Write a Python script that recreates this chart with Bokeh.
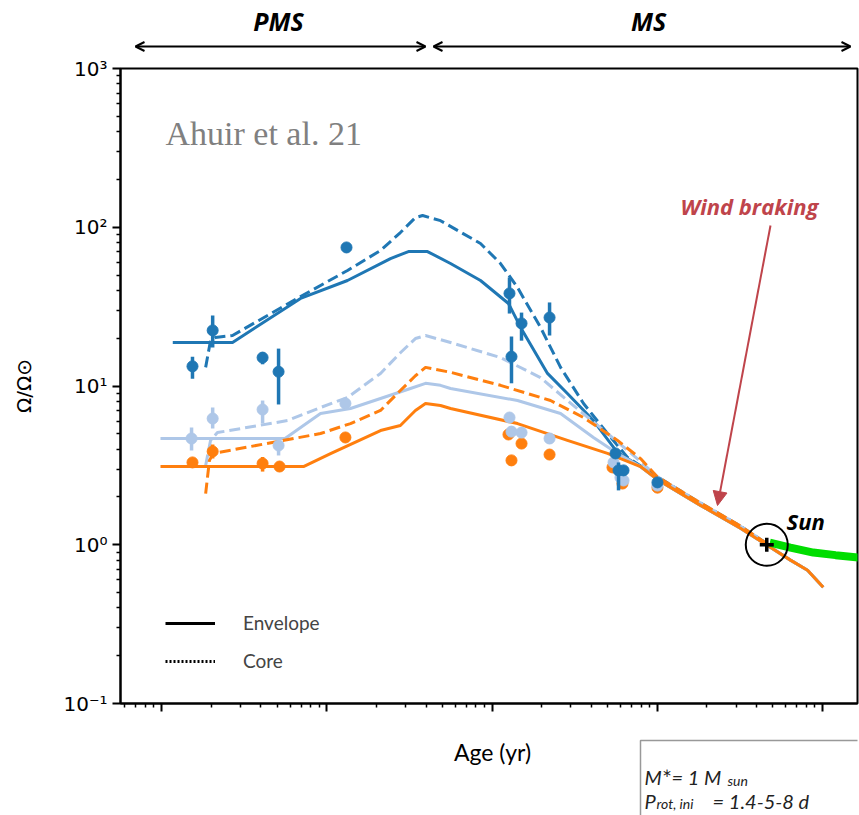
from bokeh.plotting import figure
from bokeh.layouts import column
from bokeh.models import (Range1d, FixedTicker, Label, Arrow, OpenHead, NormalHead,
                          Legend, LegendItem)
from bokeh.embed import file_html
from bokeh.resources import INLINE

# ---------------------------------------------------------------- data
# Spin evolution of a 1 Msun star for three initial rotation periods
# (1.4 d = fast, 5 d = medium, 8 d = slow). Ages in yr, Omega in Omega_sun.

# shared main-sequence convergence (Skumanich-like spin-down)
TAIL_AGE = [1.0e9, 1.83e9, 3.19e9, 4.58e9, 6.4e9, 8.12e9, 1.01e10]
TAIL_ENV = [2.58, 1.77, 1.27, 1.0, 0.80, 0.69, 0.54]
TAIL_CORE = [2.68, 1.83, 1.31, 1.02]

FAST_ENV_AGE = [1.17e6, 2.69e6, 6.94e6, 1.335e7, 2.43e7, 3.12e7, 4.07e7, 5.61e7,
                8.52e7, 1.258e8, 1.49e8, 2.167e8, 2.86e8, 4.11e8, 5.75e8, 7.92e8]
FAST_ENV = [18.8, 18.8, 35.6, 46.2, 63.5, 70.3, 70.3, 59.1,
            46.2, 33.1, 23.4, 12.0, 8.97, 6.06, 3.81, 3.11]
FAST_CORE_AGE = [1.85e6, 1.98e6, 2.12e6, 2.69e6, 6.94e6, 1.335e7, 2.115e7, 2.79e7,
                 3.44e7, 3.8e7, 4.88e7, 8.52e7, 1.126e8, 1.427e8, 1.966e8, 2.60e8,
                 3.58e8, 5.0e8, 6.61e8]
FAST_CORE = [13.1, 19.3, 20.2, 20.8, 36.6, 53.4, 71.4, 92.6,
             115.0, 118.6, 110.0, 79.0, 59.1, 41.7, 23.4, 13.1,
             7.76, 5.02, 3.55]

MID_ENV_AGE = [9.86e5, 5.59e6, 9.17e6, 1.392e7, 2.115e7, 3.21e7, 3.96e7, 4.88e7,
               5.61e7, 1.427e8, 2.60e8, 4.11e8, 5.75e8, 7.92e8]
MID_ENV = [4.67, 4.67, 6.71, 7.22, 8.34, 9.65, 10.4, 10.1,
           9.65, 8.10, 6.71, 4.74, 3.76, 3.11]
MID_CORE_AGE = [1.85e6, 1.98e6, 2.18e6, 5.79e6, 9.17e6, 1.335e7, 2.115e7, 2.79e7,
                3.44e7, 3.96e7, 5.61e7, 1.126e8, 1.966e8, 2.86e8, 5.0e8, 7.92e8]
MID_CORE = [3.16, 4.54, 5.09, 6.06, 7.32, 8.47, 12.0, 16.2,
            19.9, 20.8, 18.8, 15.1, 11.3, 8.10, 5.02, 3.35]

SLOW_ENV_AGE = [9.86e5, 7.23e6, 1.054e7, 2.115e7, 2.79e7, 3.44e7, 3.96e7, 4.88e7,
                5.61e7, 1.427e8, 2.86e8, 5.0e8, 7.92e8]
SLOW_ENV = [3.11, 3.11, 3.75, 5.24, 5.64, 7.01, 7.76, 7.54,
            7.22, 5.80, 4.54, 3.76, 3.11]
SLOW_CORE_AGE = [1.85e6, 1.95e6, 2.06e6, 9.17e6, 1.392e7, 2.115e7, 2.79e7, 3.44e7,
                 3.96e7, 5.61e7, 1.126e8, 2.26e8, 3.58e8, 5.75e8, 7.92e8]
SLOW_CORE = [2.10, 3.40, 3.76, 5.02, 5.80, 7.01, 9.37, 11.6,
             13.1, 12.2, 10.1, 8.10, 6.33, 4.54, 3.49]

# observed cluster percentiles: age, Omega, lower and upper error
FAST_OBS_AGE = [1.54e6, 2.04e6, 4.09e6, 5.11e6, 1.317e7, 1.276e8, 1.312e8, 1.509e8,
                2.23e8, 5.59e8, 5.83e8, 6.25e8, 1.003e9]
FAST_OBS = [13.3, 22.4, 15.1, 12.3, 74.6, 38.3, 15.3, 24.8,
            27.0, 3.76, 2.94, 2.94, 2.47]
FAST_OBS_LO = [11.1, 17.5, 13.7, 7.65, 69.3, 28.6, 10.4, 19.3,
               20.8, 3.76, 2.20, 2.94, 2.47]
FAST_OBS_HI = [15.3, 27.8, 16.3, 17.2, 79.0, 48.3, 20.5, 29.0,
               33.6, 3.76, 3.30, 2.94, 2.47]

MID_OBS_AGE = [1.52e6, 2.04e6, 4.09e6, 5.11e6, 1.297e7, 1.276e8, 1.312e8, 1.509e8,
               2.23e8, 5.44e8, 5.99e8, 6.25e8, 1.003e9]
MID_OBS = [4.67, 6.24, 7.11, 4.22, 7.76, 6.33, 5.16, 5.09,
           4.67, 3.30, 2.65, 2.54, 2.36]
MID_OBS_LO = [3.93, 5.40, 5.80, 3.65, 7.22, 6.06, 5.16, 5.09,
              4.34, 3.30, 2.65, 2.54, 2.36]
MID_OBS_HI = [5.48, 7.32, 8.10, 4.54, 8.34, 6.60, 5.16, 5.09,
              5.02, 3.30, 2.65, 2.54, 2.36]

SLOW_OBS_AGE = [1.54e6, 2.04e6, 4.09e6, 5.18e6, 1.297e7, 1.258e8, 1.312e8, 1.509e8,
                2.23e8, 5.36e8, 6.16e8, 1.003e9]
SLOW_OBS = [3.30, 3.87, 3.25, 3.11, 4.74, 4.95, 3.40, 4.34,
            3.70, 3.07, 2.43, 2.29]
SLOW_OBS_LO = [3.10, 3.49, 2.89, 3.11, 4.74, 4.95, 3.40, 4.34,
               3.70, 3.07, 2.43, 2.29]
SLOW_OBS_HI = [3.50, 4.28, 3.57, 3.11, 4.74, 4.95, 3.40, 4.34,
               3.70, 3.07, 2.43, 2.29]

# present Sun and its expected future (weakened braking) track
SUN_AGE = 4.6e9
SUN_OMEGA = 1.0
SUN_FUTURE_AGE = [4.8e9, 6.4e9, 8.8e9, 1.2e10, 1.67e10]
SUN_FUTURE = [1.03, 0.96, 0.893, 0.86, 0.83]

Y_TICKS = [0.1, 1, 10, 100, 1000]
Y_TICK_LABELS = ["10⁻¹", "10⁰", "10¹", "10²", "10³"]
X_TICKS = [1e6, 1e7, 1e8, 1e9, 1e10]

DARK = "#1f77b4"
LIGHT = "#aec7e8"
ORANGE = "#ff7f0e"
RED = "#bf444b"
TXT = "#222222"

W = 859
HEAD_H, MAIN_H, FOOT_H = 56, 682, 77
FRAME_L, FRAME_R = 120, 857

# ---------------------------------------------------------------- main panel
X0, DEC_X = 161.0, 165.25      # pixel of 1e6 yr, pixels per decade
Y0, DEC_Y = 68.0, 158.75       # pixel of 1e3, pixels per decade


def xpx(px):
    return 10 ** (6 + (px - X0) / DEC_X)


def ypx(py):
    return 10 ** (3 - (py - Y0) / DEC_Y)


p = figure(width=W, height=MAIN_H, x_axis_type="log", y_axis_type="log",
           x_range=Range1d(xpx(FRAME_L), xpx(FRAME_R)), y_range=Range1d(0.1, 1000),
           min_border_left=FRAME_L, min_border_right=W - FRAME_R, min_border_top=12,
           min_border_bottom=35, output_backend="svg", toolbar_location=None)
p.grid.visible = False
p.outline_line_color = "black"
p.outline_line_width = 2

p.yaxis.ticker = FixedTicker(ticks=Y_TICKS,
                             minor_ticks=[m * 10.0 ** e for e in range(-1, 3) for m in range(2, 10)])
p.yaxis.major_label_overrides = {t: s for t, s in zip(Y_TICKS, Y_TICK_LABELS)}
p.xaxis.ticker = FixedTicker(ticks=X_TICKS,
                             minor_ticks=[m * 10.0 ** e for e in range(5, 11) for m in range(2, 10)])
p.xaxis.major_label_text_font_size = "2px"
p.xaxis.major_label_text_alpha = 0
p.xaxis.major_label_standoff = 0
for ax in (p.xaxis[0], p.yaxis[0]):
    ax.axis_line_color = "black"
    ax.axis_line_width = 2
    ax.major_tick_line_color = "black"
    ax.major_tick_line_width = 2
    ax.minor_tick_line_color = "black"
    ax.minor_tick_line_width = 1.5
    ax.major_tick_in = 0
    ax.minor_tick_in = 0
    ax.major_tick_out = 8
    ax.minor_tick_out = 4
    ax.axis_label_text_font_style = "normal"
    ax.axis_label_text_color = "black"
p.yaxis.major_label_text_font = "DejaVu Sans"
p.yaxis.major_label_text_font_size = "20px"
p.yaxis.major_label_text_color = "black"
p.yaxis.major_label_standoff = 5
p.yaxis.axis_label = "Ω/Ω⊙"
p.yaxis.axis_label_text_font = "DejaVu Sans"
p.yaxis.axis_label_text_font_size = "20px"
p.yaxis.axis_label_standoff = 24

# model curves: envelope solid, core dashed
curves = [
    (FAST_ENV_AGE + TAIL_AGE, FAST_ENV + TAIL_ENV, DARK, "solid"),
    (FAST_CORE_AGE + TAIL_AGE[:4], FAST_CORE + TAIL_CORE, DARK, "11 5"),
    (MID_ENV_AGE + TAIL_AGE, MID_ENV + TAIL_ENV, LIGHT, "solid"),
    (MID_CORE_AGE + TAIL_AGE[:4], MID_CORE + TAIL_CORE, LIGHT, "11 5"),
    (SLOW_ENV_AGE + TAIL_AGE, SLOW_ENV + TAIL_ENV, ORANGE, "solid"),
    (SLOW_CORE_AGE + TAIL_AGE[:4], SLOW_CORE + TAIL_CORE, ORANGE, "11 5"),
]
for xs, ys, col, dash in curves:
    p.line(xs, ys, line_color=col, line_width=3, line_dash=dash, line_join="round")

# observations with error bars
for ages, vals, lo, hi, col in [
        (SLOW_OBS_AGE, SLOW_OBS, SLOW_OBS_LO, SLOW_OBS_HI, ORANGE),
        (MID_OBS_AGE, MID_OBS, MID_OBS_LO, MID_OBS_HI, LIGHT),
        (FAST_OBS_AGE, FAST_OBS, FAST_OBS_LO, FAST_OBS_HI, DARK)]:
    p.segment(x0=ages, y0=lo, x1=ages, y1=hi, line_color=col, line_width=3.5)
    p.scatter(ages, vals, size=11, fill_color=col, line_color=col)

# the Sun and its future track
p.line(SUN_FUTURE_AGE, SUN_FUTURE, line_color="#00dd00", line_width=8)
p.scatter([SUN_AGE], [SUN_OMEGA], marker="circle", size=42, fill_alpha=0,
          line_color="black", line_width=2)
p.scatter([SUN_AGE], [SUN_OMEGA], marker="cross", size=14, line_color="black",
          line_width=3.5)

# legend for line styles (single-point lines: nothing drawn in the plot)
env_r = p.line([SUN_AGE], [SUN_OMEGA], line_color="black", line_width=3)
core_r = p.line([SUN_AGE], [SUN_OMEGA], line_color="black", line_width=3,
                line_dash="2 2")
legend = Legend(items=[LegendItem(label="Envelope", renderers=[env_r]),
                       LegendItem(label="Core", renderers=[core_r])],
                location=(35, 21), padding=10, spacing=15, glyph_width=50,
                glyph_height=20, label_standoff=28, label_text_font="Lato",
                label_text_font_size="19px", border_line_alpha=0,
                background_fill_alpha=0)
p.add_layout(legend)


def note(fig, x, y, text, size, font="Lato", style="normal", color="black",
         align="left", baseline="alphabetic"):
    fig.add_layout(Label(x=x, y=y, text=text, text_font=font,
                         text_font_size=size, text_font_style=style,
                         text_color=color, text_align=align,
                         text_baseline=baseline))


note(p, xpx(165), ypx(133), "Ahuir et al. 21", "34px", font="Liberation Serif",
     color="#808080")
note(p, xpx(680), ypx(205), "Wind braking", "22px", font="Open Sans",
     style="bold italic", color=RED)
note(p, xpx(786), ypx(520), "Sun", "22px", font="Open Sans", style="bold italic")
p.add_layout(Arrow(x_start=xpx(770), y_start=ypx(225), x_end=xpx(717), y_end=ypx(505),
                   line_color=RED, line_width=2,
                   end=NormalHead(size=14, fill_color=RED, line_color=RED)))


# ---------------------------------------------------------------- strips in pixel units
# the column aligns every frame with the main one, so x runs FRAME_L..FRAME_R
def strip(height, y_top):
    f = figure(width=W, height=height, x_range=Range1d(FRAME_L, FRAME_R),
               y_range=Range1d(y_top + height, y_top),
               x_axis_location=None, y_axis_location=None,
               min_border_left=FRAME_L, min_border_right=W - FRAME_R,
               min_border_top=0, min_border_bottom=0,
               output_backend="svg", toolbar_location=None)
    f.grid.visible = False
    f.outline_line_color = None
    return f


# PMS / MS phases
head = strip(HEAD_H, 0)
note(head, 278, 20, "PMS", "25px", font="Open Sans", style="bold italic",
     align="center", baseline="middle")
note(head, 648, 20, "MS", "25px", font="Open Sans", style="bold italic",
     align="center", baseline="middle")
for a, b in [(135, 425), (433, 850)]:
    head.add_layout(Arrow(x_start=a, y_start=46, x_end=b, y_end=46,
                          line_color="black", line_width=2,
                          start=OpenHead(size=9, line_width=2, line_color="black"),
                          end=OpenHead(size=9, line_width=2, line_color="black")))

# axis title and parameter box
foot = strip(FOOT_H, HEAD_H + MAIN_H)
note(foot, 492, 751, "Age (yr)", "23px", align="center", baseline="middle")
foot.quad(left=[640], right=[W + 20], top=[740], bottom=[W], fill_color="white",
          line_color="#999999", line_width=1.5)
note(foot, 644, 776, "M", "20px", style="italic", color=TXT)
note(foot, 661, 772, "∗", "12px", color=TXT)
note(foot, 671, 776, "=  1  M", "20px", style="italic", color=TXT)
note(foot, 727, 780, "sun", "14px", style="italic", color=TXT)
note(foot, 644, 800, "P", "20px", style="italic", color=TXT)
note(foot, 656, 803, "rot, ini", "14px", style="italic", color=TXT)
note(foot, 712, 800, "=  1.4-5-8  d", "20px", style="italic", color=TXT)

layout = column(head, p, foot, spacing=0)
open("out.html", "w").write(file_html(layout, INLINE))
